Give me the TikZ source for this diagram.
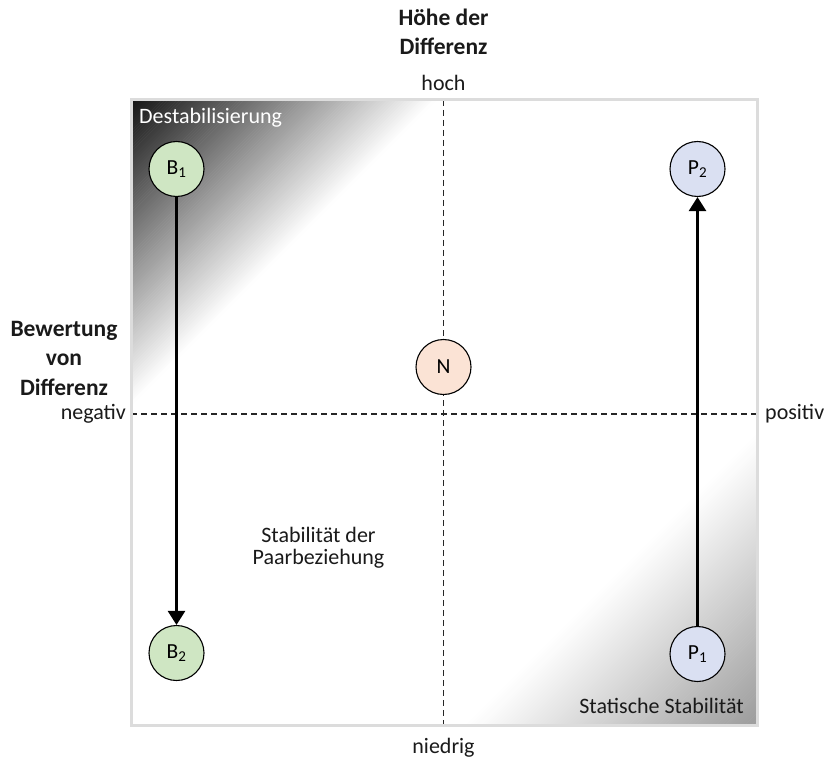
\documentclass[tikz,border=0pt]{standalone}
\usepackage{fontspec}
\setmainfont{Carlito}
\usetikzlibrary{arrows.meta}
\definecolor{bfill}{HTML}{CFE6C3}
\definecolor{pfill}{HTML}{DAE0F2}
\definecolor{nfill}{HTML}{FBE3D5}
\definecolor{framec}{HTML}{DCDCDC}
\definecolor{tlc}{HTML}{141414}
\definecolor{brc}{HTML}{9C9C9C}
\definecolor{txt}{HTML}{1A1A1A}
\tikzset{
  state/.style={circle, draw=black, line width=1.1pt, minimum size=55pt, inner sep=0pt, text=black, font=\fontsize{21.5}{23}\selectfont},
  flow/.style={line width=2.5pt, -{Triangle[width=17pt,length=14pt]}},
  axisline/.style={dash pattern=on 6pt off 4pt, line width=1.2pt, draw=black!85},
  heading/.style={font=\fontsize{23.5}{29}\selectfont\bfseries, align=center, anchor=base, inner sep=0pt},
  lbl/.style={anchor=base, inner sep=0pt},
}
\begin{document}
\begin{tikzpicture}[x=1pt, y=-1pt, font=\fontsize{22}{24}\selectfont, text=txt]
\useasboundingbox (0,0) rectangle (829,759);
\fill[white] (0,0) rectangle (829,759);
\coordinate (tl) at (131,100);
\coordinate (br) at (757,725);
% gradients
\foreach \i in {0,...,99}{
  \pgfmathsetmacro\a{\i*3.05}
  \pgfmathsetmacro\b{(\i+1)*3.05+0.6}
  \pgfmathsetmacro\p{100-(\i+0.5)}
  \fill[tlc!\p!white] ({131+\a},100) -- ({131+\b},100) -- (131,{100+\b}) -- (131,{100+\a}) -- cycle;
}
\foreach \i in {0,...,99}{
  \pgfmathsetmacro\a{\i*2.9}
  \pgfmathsetmacro\b{(\i+1)*2.9+0.6}
  \pgfmathsetmacro\p{100-(\i+0.5)}
  \fill[brc!\p!white] ({757-\a},725) -- ({757-\b},725) -- (757,{725-\b}) -- (757,{725-\a}) -- cycle;
}
% axes
\coordinate (vtop) at (443.5,100);
\coordinate (vbot) at (443.5,725);
\coordinate (hl) at (131,414);
\coordinate (hr) at (757,414);
\draw[axisline] (vtop) -- (vbot);
\draw[axisline] (hl) -- (hr);
\draw[framec, line width=3pt] (tl) rectangle (br);
% labels
\node[heading] (hoehe) at (443.5,55) {Höhe der\\Differenz};
\node[lbl] (hoch) at (443.5,90.7) {hoch};
\node[lbl] (niedrig) at (443.5,753.5) {niedrig};
\node[heading, font=\fontsize{23.5}{29.5}\selectfont\bfseries] (bew) at (64,395) {Bewertung\\von\\Differenz};
\node[lbl, anchor=base east] (neg) at (126,419) {negativ};
\node[lbl, anchor=base west] (pos) at (765,419) {positiv};
\node[lbl, anchor=base west, text=white] (destab) at (139,123.3) {Destabilisierung};
\node[lbl, anchor=base east] (stat) at (744,713) {Statische Stabilität};
\node[lbl, align=center, font=\fontsize{22}{22.5}\selectfont] (stab) at (318.5,564.5) {Stabilität der\\Paarbeziehung};
% circles
\node[state, fill=bfill] (b1) at (176.5,169) {B\textsubscript{1}};
\node[state, fill=bfill] (b2) at (176.5,653) {B\textsubscript{2}};
\node[state, fill=pfill] (p2) at (697.5,169) {P\textsubscript{2}};
\node[state, fill=pfill] (p1) at (697.5,654) {P\textsubscript{1}};
\node[state, fill=nfill] (n) at (443.5,367) {N};
\draw[flow] (b1) -- (b2);
\draw[flow] (p1) -- (p2);
\end{tikzpicture}
\end{document}
